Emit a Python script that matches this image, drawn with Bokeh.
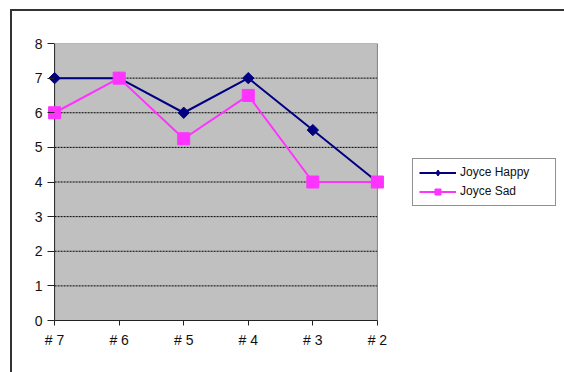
import math
from bokeh.plotting import figure
from bokeh.models import Range1d, FixedTicker, Legend, LegendItem
from bokeh.embed import file_html
from bokeh.resources import INLINE

categories = ["# 7", "# 6", "# 5", "# 4", "# 3", "# 2"]
happy = [7, 7, 6, 7, 5.5, 4]
sad = [6, 7, 5.25, 6.5, 4, 4]
y_ticks = [0, 1, 2, 3, 4, 5, 6, 7, 8]

xs = list(range(len(categories)))
FONT = "Liberation Sans"
PAD = 0.11  # room so edge markers are not clipped
x0, x1 = xs[0], xs[-1]
y0, y1 = y_ticks[0], y_ticks[-1]
NAVY = "#000080"
PINK = "#ff33ff"

p = figure(width=545, height=363, output_backend="svg", toolbar_location=None,
           x_range=Range1d(x0 - PAD, x1 + PAD), y_range=Range1d(y0, y1),
           min_border_left=35, min_border_top=32, min_border_bottom=54, min_border_right=5,
           frame_width=337, frame_height=277)
p.margin = (9, 0, 0, 10)
p.styles = {"border-top": "2px solid #333333", "border-left": "2px solid #333333"}

p.background_fill_color = None
p.border_fill_color = "white"
p.outline_line_color = None
p.grid.grid_line_color = None

# gray plot area
p.quad(left=[x0], right=[x1], bottom=[y0], top=[y1], fill_color="#c0c0c0", line_color=None)
# dashed horizontal gridlines
inner = y_ticks[1:-1]
p.multi_line([[x0, x1] for _ in inner], [[t, t] for t in inner],
             line_color="black", line_dash="2 1", line_width=1)
# top and right edge of plot area
p.line([x0, x1, x1], [y1, y1, y0], line_color="#808080", line_width=1)
# left axis line
p.line([x0, x0], [y0, y1], line_color="#222222", line_width=1)

p.xaxis.ticker = FixedTicker(ticks=xs)
p.xaxis.major_label_overrides = {i: c for i, c in enumerate(categories)}
p.xaxis.bounds = (x0, x1)
p.xaxis.axis_line_color = "#222222"
p.xaxis.major_tick_out = 5
p.xaxis.major_tick_in = 0
p.xaxis.major_label_standoff = 6

p.yaxis.ticker = FixedTicker(ticks=y_ticks)
p.yaxis.axis_line_color = None
p.yaxis.major_tick_out = 0
p.yaxis.major_tick_in = 7
p.yaxis.major_label_standoff = 5

for ax in (p.xaxis[0], p.yaxis[0]):
    ax.major_tick_line_color = "#222222"
    ax.minor_tick_line_color = None
    ax.major_label_text_font = FONT
    ax.major_label_text_font_size = "14px"
    ax.major_label_text_color = "#111111"

DIAMOND = math.pi / 4
r1 = p.line(xs, happy, line_color=NAVY, line_width=2)
lm1 = p.scatter(xs, happy, marker="diamond", size=8, fill_color=NAVY, line_color=NAVY)
p.scatter(xs, happy, marker="square", angle=DIAMOND, size=8, fill_color=NAVY, line_color=NAVY)
r2 = p.line(xs, sad, line_color=PINK, line_width=2)
lm2 = p.scatter(xs, sad, marker="square", size=7, fill_color=PINK, line_color=PINK)
p.scatter(xs, sad, marker="square", size=12, fill_color=PINK, line_color=PINK)

legend = Legend(items=[LegendItem(label="Joyce Happy", renderers=[r1, lm1]),
                       LegendItem(label="Joyce Sad", renderers=[r2, lm2])],
                location="center_left")
legend.border_line_color = "#222222"
legend.border_line_width = 1
legend.background_fill_color = "white"
legend.label_text_font = FONT
legend.label_text_font_size = "12px"
legend.label_text_color = "#111111"
legend.glyph_width = 37
legend.glyph_height = 15
legend.spacing = 4
legend.padding = 6
legend.label_standoff = 4
legend.label_width = 89
legend.margin = 28
p.add_layout(legend, "right")

open("out.html", "w").write(file_html(p, INLINE))
